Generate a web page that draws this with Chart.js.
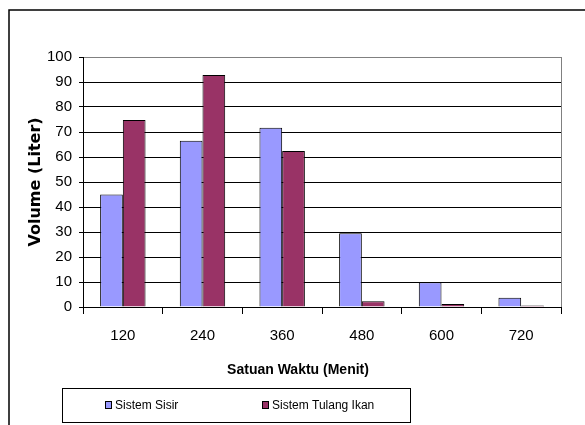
<!DOCTYPE html>
<html>
<head>
<meta charset="utf-8">
<script src="https://cdn.jsdelivr.net/npm/chart.js@4.4.1/dist/chart.umd.min.js"></script>
<style>
  html, body { margin: 0; padding: 0; background: #fff; }
  #wrap { position: relative; width: 585px; height: 425px; }
</style>
</head>
<body>
<div id="wrap"><canvas id="c" width="585" height="425"></canvas></div>
<script>
const categories = ['120', '240', '360', '480', '600', '720'];
const sisirValues = [45, 66.5, 71.7, 29.5, 9.9, 3.7];
const tulangValues = [74.8, 92.8, 62.4, 2.3, 1.2, 0.6];
const seriesNames = ['Sistem Sisir', 'Sistem Tulang Ikan'];
const yTicks = [0, 10, 20, 30, 40, 50, 60, 70, 80, 90, 100];
const xTitle = 'Satuan Waktu (Menit)';
const yTitle = 'Volume (Liter)';

const SANS = '"Liberation Sans Narrow", "Arial Narrow", "Liberation Sans", Arial, sans-serif';

const framePlugin = {
  id: 'frame',
  afterDraw(chart) {
    const ctx = chart.ctx;
    const a = chart.chartArea;
    ctx.save();
    // plot area right border (gray)
    ctx.strokeStyle = '#808080';
    ctx.lineWidth = 1;
    ctx.beginPath();
    ctx.moveTo(Math.round(a.right) + 0.5, a.top);
    ctx.lineTo(Math.round(a.right) + 0.5, a.bottom);
    ctx.stroke();
    // outer chart frame
    ctx.strokeStyle = '#000';
    ctx.lineWidth = 1.5;
    ctx.beginPath();
    ctx.moveTo(585, 10);
    ctx.lineTo(9, 10);
    ctx.lineTo(9, 425);
    ctx.stroke();
    // x axis title (centred on the chart, as in the source)
    ctx.fillStyle = '#000';
    ctx.font = 'bold 14px ' + SANS;
    ctx.textAlign = 'center';
    ctx.textBaseline = 'middle';
    ctx.fillText(xTitle, 298, 370);
    // legend box
    ctx.lineWidth = 1;
    ctx.strokeStyle = '#000';
    ctx.strokeRect(62.5, 388.5, 348, 34);
    const items = chart.data.datasets;
    const xs = [105, 262];
    ctx.font = '12px ' + SANS;
    ctx.textBaseline = 'middle';
    ctx.textAlign = 'left';
    items.forEach((ds, i) => {
      ctx.fillStyle = ds.backgroundColor;
      ctx.fillRect(xs[i], 401, 7, 8);
      ctx.strokeStyle = '#000';
      ctx.strokeRect(xs[i] + 0.5, 401.5, 6, 7);
      ctx.fillStyle = '#000';
      ctx.fillText(ds.label, xs[i] + 10, 406);
    });
    ctx.restore();
  }
};

new Chart(document.getElementById('c'), {
  type: 'bar',
  data: {
    labels: categories,
    datasets: [
      { label: seriesNames[0], data: sisirValues, backgroundColor: '#9999FF', borderColor: '#000', borderWidth: 1,
        categoryPercentage: 0.57, barPercentage: 1 },
      { label: seriesNames[1], data: tulangValues, backgroundColor: '#993366', borderColor: '#000', borderWidth: 1,
        categoryPercentage: 0.57, barPercentage: 1 }
    ]
  },
  options: {
    responsive: false,
    animation: false,
    devicePixelRatio: 1,
    layout: { padding: { left: 0, top: 57, right: 24, bottom: 43 } },
    plugins: { legend: { display: false }, tooltip: { enabled: false }, title: { display: false } },
    scales: {
      x: {
        offset: true,
        grid: { display: true, drawOnChartArea: false, drawTicks: true, tickLength: 7, color: '#000', offset: true },
        border: { display: true, color: '#000', width: 1 },
        ticks: { color: '#000', font: { family: SANS, size: 15 }, padding: 13, maxRotation: 0 },
        title: { display: false },
        afterFit(scale) { scale.height = 75; }
      },
      y: {
        min: 0, max: 100,
        afterBuildTicks(scale) { scale.ticks = yTicks.map(v => ({ value: v })); },
        grid: {
          color: (c) => (c.tick && c.tick.value === 100 ? '#808080' : '#000'),
          tickColor: '#000', tickLength: 4, lineWidth: 1
        },
        border: { display: true, color: '#000', width: 1 },
        ticks: { color: '#000', font: { family: SANS, size: 15 }, padding: 7 },
        title: { display: true, text: yTitle, color: '#000', font: { family: '"DejaVu Sans", sans-serif', size: 16, weight: 'bold' }, padding: { top: 26, bottom: 0 } },
        afterFit(scale) { scale.width = 83; }
      }
    }
  },
  plugins: [framePlugin]
});
</script>
</body>
</html>
